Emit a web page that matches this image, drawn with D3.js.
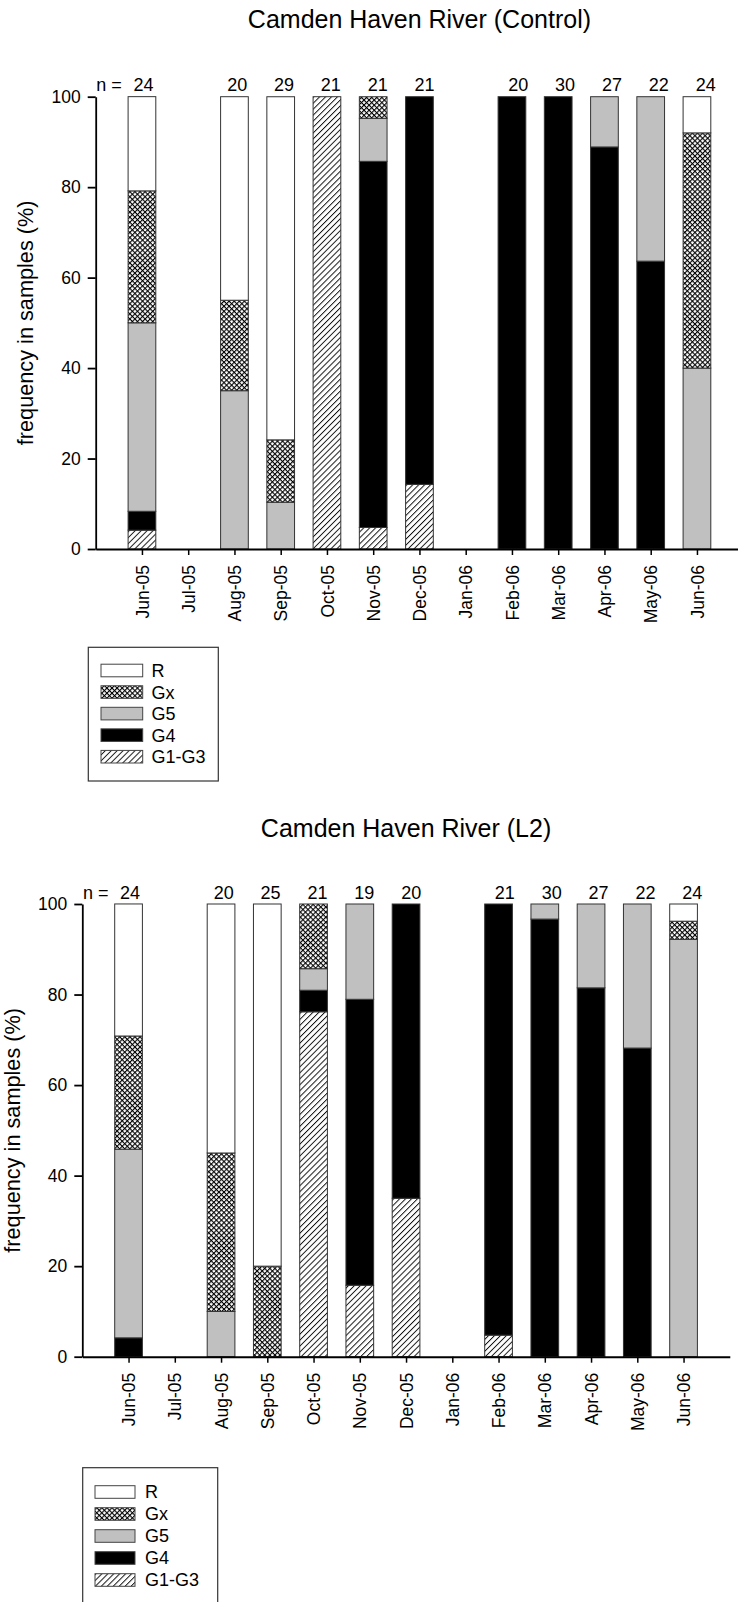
<!DOCTYPE html>
<html>
<head>
<meta charset="utf-8">
<script src="https://cdn.jsdelivr.net/npm/d3@7"></script>
<style>
  html, body { margin: 0; padding: 0; background: #fff; }
  svg { display: block; }
  text { font-family: "Liberation Sans", Arial, Helvetica, sans-serif; fill: #000; }
</style>
</head>
<body>
<svg id="chart" width="738" height="1602"></svg>
<script>
// ---------- data ----------
const months = ["Jun-05","Jul-05","Aug-05","Sep-05","Oct-05","Nov-05","Dec-05","Jan-06","Feb-06","Mar-06","Apr-06","May-06","Jun-06"];
const seriesKeys = ["G1-G3","G4","G5","Gx","R"];          // stacking order, bottom to top
const legendOrder = ["R","Gx","G5","G4","G1-G3"];
const yTicks = [0,20,40,60,80,100];

// Camden Haven River (Control)
const ctrlTitle = "Camden Haven River (Control)";
const ctrlN    = [24,null,20,29,21,21,21,null,20,30,27,22,24];
const ctrlG1G3 = [4.17,0,0,0,100,4.76,14.29,0,0,0,0,0,0];
const ctrlG4   = [4.17,0,0,0,0,80.95,85.71,0,100,100,88.89,63.64,0];
const ctrlG5   = [41.67,0,35,10.34,0,9.52,0,0,0,0,11.11,36.36,40];
const ctrlGx   = [29.17,0,20,13.79,0,4.76,0,0,0,0,0,0,52];
const ctrlR    = [20.83,0,45,75.86,0,0,0,0,0,0,0,0,8];

// Camden Haven River (L2)
const l2Title = "Camden Haven River (L2)";
const l2N    = [24,null,20,25,21,19,20,null,21,30,27,22,24];
const l2G1G3 = [0,0,0,0,76.19,15.79,35,0,4.76,0,0,0,0];
const l2G4   = [4.17,0,0,0,4.76,63.16,65,0,95.24,96.67,81.48,68.18,0];
const l2G5   = [41.67,0,10,0,4.76,21.05,0,0,0,3.33,18.52,31.82,92.2];
const l2Gx   = [25,0,35,20,14.29,0,0,0,0,0,0,0,4];
const l2R    = [29.17,0,55,80,0,0,0,0,0,0,0,0,3.8];

// ---------- drawing ----------
const svg = d3.select("#chart");
const defs = svg.append("defs");

// crosshatch pattern (Gx)
const cp = 3.6;
const ch = defs.append("pattern").attr("id","crosshatch")
  .attr("patternUnits","userSpaceOnUse").attr("width",cp).attr("height",cp)
  .attr("patternTransform","rotate(45)");
ch.append("rect").attr("width",cp).attr("height",cp).attr("fill","#fff");
ch.append("rect").attr("x",0).attr("y",0).attr("width",1.1).attr("height",cp).attr("fill","#000");
ch.append("rect").attr("x",0).attr("y",0).attr("width",cp).attr("height",1.1).attr("fill","#000");

// diagonal hatch pattern (G1-G3)
const dp = 4.2;
const dh = defs.append("pattern").attr("id","diag")
  .attr("patternUnits","userSpaceOnUse").attr("width",dp).attr("height",dp)
  .attr("patternTransform","rotate(45)");
dh.append("rect").attr("width",dp).attr("height",dp).attr("fill","#fff");
dh.append("line").attr("x1",0.5).attr("y1",0).attr("x2",0.5).attr("y2",dp).attr("stroke","#000").attr("stroke-width",0.9);

const fills = {"R":"#ffffff","Gx":"url(#crosshatch)","G5":"#c0c0c0","G4":"#000000","G1-G3":"url(#diag)"};

function drawChart(cfg) {
  const g = svg.append("g");
  const step = 46.25;
  const x = d3.scaleLinear().domain([-1, 13]).range([cfg.x0, cfg.x0 + 14*step]);
  const y = d3.scaleLinear().domain([0, 100]).range([cfg.bottom, cfg.top]);
  const barW = 27.7;

  const rows = months.map((m, i) => {
    const o = {i: i, month: m};
    seriesKeys.forEach(k => { o[k] = cfg.values[k][i]; });
    return o;
  });
  const stacked = d3.stack().keys(seriesKeys)(rows);

  // bars
  stacked.forEach(layer => {
    g.append("g").selectAll("rect")
      .data(layer.filter(d => d[1] - d[0] > 0))
      .join("rect")
      .attr("x", d => x(d.data.i) - barW/2)
      .attr("y", d => y(d[1]))
      .attr("width", barW)
      .attr("height", d => y(d[0]) - y(d[1]))
      .attr("fill", fills[layer.key])
      .attr("stroke", "#333")
      .attr("stroke-width", 1);
  });

  // y axis
  const ya = g.append("g").attr("transform", `translate(${cfg.x0},0)`)
    .call(d3.axisLeft(y).tickValues(yTicks).tickSize(8).tickSizeOuter(0).tickPadding(7));
  ya.select(".domain").attr("stroke","#000").attr("stroke-width",1.8);
  ya.selectAll(".tick line").attr("stroke","#000").attr("stroke-width",1.8);
  ya.selectAll(".tick text").attr("font-size",17.5).attr("font-family",null);

  // x axis
  const xa = g.append("g").attr("transform", `translate(0,${cfg.bottom})`)
    .call(d3.axisBottom(x).tickValues(d3.range(months.length)).tickFormat(i => months[i])
      .tickSize(6).tickSizeOuter(0));
  xa.select(".domain").attr("stroke","#000").attr("stroke-width",2);
  xa.selectAll(".tick line").attr("stroke","#000").attr("stroke-width",1.5);
  xa.selectAll(".tick text")
    .attr("font-size",17.5).attr("font-family",null)
    .attr("transform","rotate(-90)")
    .attr("text-anchor","end")
    .attr("x",-16).attr("y",0).attr("dy","0.35em");

  // n labels
  g.append("text").attr("x", cfg.x0 + 0.6).attr("y", cfg.top - 5.5)
    .attr("font-size",18).text("n =");
  g.append("g").selectAll("text")
    .data(cfg.n.map((v,i) => ({v:v, i:i})).filter(d => d.v !== null))
    .join("text")
    .attr("x", d => x(d.i) + 1.5 + 0.6*d.i)
    .attr("y", cfg.top - 5.5)
    .attr("text-anchor","middle")
    .attr("font-size",18)
    .text(d => d.v);

  // title
  g.append("text")
    .attr("x", (cfg.x0 + x(13))/2)
    .attr("y", cfg.titleY)
    .attr("text-anchor","middle")
    .attr("font-size",25)
    .text(cfg.title);

  // y axis label
  g.append("text")
    .attr("transform", `translate(${cfg.x0 - 70},${(cfg.top + cfg.bottom)/2}) rotate(-90)`)
    .attr("text-anchor","middle")
    .attr("dy","0.35em")
    .attr("font-size",21.7)
    .text("frequency in samples (%)");

  // legend
  const L = cfg.legend;
  const lg = g.append("g");
  lg.append("rect").attr("x",L.x).attr("y",L.y).attr("width",L.w).attr("height",L.h)
    .attr("fill","#fff").attr("stroke","#333").attr("stroke-width",1.2);
  legendOrder.forEach((k, j) => {
    const cy = L.row0 + j*L.rowH;
    lg.append("rect").attr("x",L.sx).attr("y",cy - 6.3).attr("width",L.sw).attr("height",12.6)
      .attr("fill",fills[k]).attr("stroke","#444").attr("stroke-width",1);
    lg.append("text").attr("x",L.tx).attr("y",cy).attr("dy","0.36em")
      .attr("font-size",18).text(k);
  });
}

drawChart({
  title: ctrlTitle, titleY: 28.3,
  x0: 95.7, top: 96.7, bottom: 549,
  n: ctrlN,
  values: {"G1-G3": ctrlG1G3, "G4": ctrlG4, "G5": ctrlG5, "Gx": ctrlGx, "R": ctrlR},
  legend: {x: 88.3, y: 647.3, w: 130, h: 133.7, sx: 101, sw: 41.7, tx: 151.5, row0: 670.5, rowH: 21.55}
});

drawChart({
  title: l2Title, titleY: 836.7,
  x0: 82.3, top: 904, bottom: 1356.7,
  n: l2N,
  values: {"G1-G3": l2G1G3, "G4": l2G4, "G5": l2G5, "Gx": l2Gx, "R": l2R},
  legend: {x: 82.7, y: 1467.7, w: 135, h: 140, sx: 95, sw: 40, tx: 145, row0: 1492, rowH: 22}
});
</script>
</body>
</html>
